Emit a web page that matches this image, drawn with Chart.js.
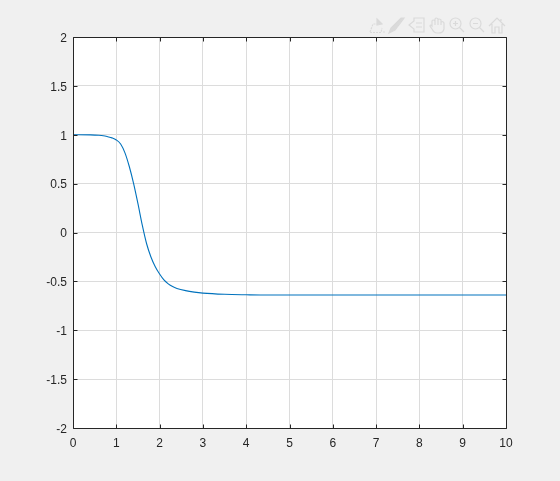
<!DOCTYPE html>
<html>
<head>
<meta charset="utf-8">
<title>Step response</title>
<script src="https://cdn.jsdelivr.net/npm/chart.js@4"></script>
<style>
  html, body { margin: 0; padding: 0; background: #f0f0f0; overflow: hidden; }
  #wrap { position: relative; width: 560px; height: 481px; }
  #toolbar { position: absolute; left: 369px; top: 17px; }
  #toolbar * { fill: none; stroke: #dadada; stroke-width: 1.2; }
  #toolbar .solid { fill: #dadada; }
</style>
</head>
<body>
<div id="wrap">
  <canvas id="chart" width="560" height="481"></canvas>
  <!-- greyed out figure toolbar, one 16px icon every 20px -->
  <svg id="toolbar" width="137" height="17" viewBox="0 0 137 17">
    <g>
      <path d="M1 15 L4 7 H8 M1 15.5 H12 L13 11" stroke-dasharray="2 1"/>
      <path class="solid" d="M8 2 L13 7 L8 8 Z"/>
      <path d="M14 15 H16"/>
    </g>
    <g transform="translate(20 0)">
      <path class="solid" d="M0 16 L2 11 L12 1 L15 1 L6 13 Z"/>
    </g>
    <g transform="translate(40 0)">
      <path d="M0 8 L5 4 V1 H15 V15 H5 V12 Z M7 6 H13 M7 10 H13"/>
    </g>
    <g transform="translate(60 0)">
      <path d="M3 9 V4 Q4 2 6 4 V8 V2 Q7 0 9 2 V8 V3 Q10 1 12 3 V8 V5 Q14 4 15 6 V12 Q14 16 10 16 H8 Q5 16 3 12 L1 9 Q1 7 3 9 Z"/>
    </g>
    <g transform="translate(80 0)">
      <circle cx="6.5" cy="6.5" r="5.5"/>
      <path d="M10.5 10.5 L15 15 M4 6.5 H9 M6.5 4 V9"/>
    </g>
    <g transform="translate(100 0)">
      <circle cx="6.5" cy="6.5" r="5.5"/>
      <path d="M10.5 10.5 L15 15 M4 6.5 H9"/>
    </g>
    <g transform="translate(120 0)">
      <path d="M0 9 L8 1 L16 9 M3 7 V16 H6 V10 H10 V16 H13 V7 M12 2 V4"/>
    </g>
  </svg>
</div>
<script>
// values
const timeValues = [0, 0.4, 0.6, 0.7, 0.8, 0.9, 1, 1.1, 1.2, 1.3, 1.4, 1.5, 1.6, 1.7, 1.8, 1.9, 2, 2.1, 2.2, 2.3, 2.4, 2.6, 2.8, 3, 3.5, 4, 4.5, 5, 6, 7, 8, 9, 10];
const outputValues = [1, 0.999, 0.995, 0.99, 0.98, 0.968, 0.947, 0.905, 0.815, 0.675, 0.5, 0.295, 0.075, -0.115, -0.25, -0.35, -0.425, -0.485, -0.525, -0.553, -0.572, -0.595, -0.61, -0.62, -0.632, -0.637, -0.64, -0.64, -0.64, -0.64, -0.64, -0.64, -0.64];

const axisColor = '#262626';
const gridColor = '#dcdcdc';
const tickLen = 4;

// white plot background and matlab style box with inward ticks
const boxPlugin = {
    id: 'box',
    beforeDraw(chart) {
        const a = chart.chartArea;
        chart.ctx.save();
        chart.ctx.fillStyle = '#ffffff';
        chart.ctx.fillRect(a.left, a.top, a.right - a.left, a.bottom - a.top);
        chart.ctx.restore();
    },
    afterDatasetsDraw(chart) {
        const c = chart.ctx;
        const a = chart.chartArea;
        const xs = chart.scales.x;
        const ys = chart.scales.y;
        const l = Math.round(a.left) + 0.5;
        const r = Math.round(a.right) + 0.5;
        const t = Math.round(a.top) + 0.5;
        const b = Math.round(a.bottom) + 0.5;
        c.save();
        c.strokeStyle = axisColor;
        c.lineWidth = 1;
        c.beginPath();
        c.rect(l, t, r - l, b - t);
        xs.ticks.forEach(function (tick) {
            const x = Math.round(xs.getPixelForValue(tick.value)) + 0.5;
            c.moveTo(x, b); c.lineTo(x, b - tickLen);
            c.moveTo(x, t); c.lineTo(x, t + tickLen);
        });
        ys.ticks.forEach(function (tick) {
            const y = Math.round(ys.getPixelForValue(tick.value)) + 0.5;
            c.moveTo(l, y); c.lineTo(l + tickLen, y);
            c.moveTo(r, y); c.lineTo(r - tickLen, y);
        });
        c.stroke();
        c.restore();
    }
};

const ctx = document.getElementById('chart').getContext('2d');
const chart = new Chart(ctx, {
    type: 'scatter',
    data: {
        datasets: [{
            data: timeValues.map(function (t, i) { return { x: t, y: outputValues[i] }; }),
            showLine: true,
            borderColor: '#0072bd',
            borderWidth: 1.1,
            pointRadius: 0,
            cubicInterpolationMode: 'monotone',
            clip: false
        }]
    },
    options: {
        responsive: false,
        animation: false,
        layout: { padding: { left: 0, top: 37, right: 54, bottom: 0 } },
        plugins: { legend: { display: false }, tooltip: { enabled: false }, title: { display: false } },
        scales: {
            x: {
                type: 'linear',
                min: 0,
                max: 10,
                afterFit: function (s) { s.height = 53; },
                border: { display: false },
                grid: { color: gridColor, drawTicks: false },
                ticks: { stepSize: 1, maxRotation: 0, padding: 8, color: axisColor, font: { family: 'Liberation Sans', size: 12 } }
            },
            y: {
                min: -2,
                max: 2,
                afterFit: function (s) { s.width = 73; },
                border: { display: false },
                grid: { color: gridColor, drawTicks: false },
                ticks: {
                    stepSize: 0.5,
                    padding: 6,
                    labelOffset: 1.5,
                    color: axisColor,
                    font: { family: 'Liberation Sans', size: 12 },
                    callback: function (value) { return String(value); }
                }
            }
        }
    },
    plugins: [boxPlugin]
});
</script>
</body>
</html>
